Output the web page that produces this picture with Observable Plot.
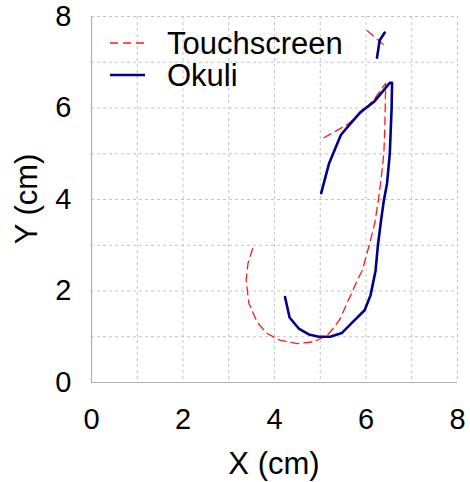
<!DOCTYPE html>
<html>
<head>
<meta charset="utf-8">
<script src="https://cdn.jsdelivr.net/npm/d3@7"></script>
<script src="https://cdn.jsdelivr.net/npm/@observablehq/plot@0.6"></script>
<style>
  html, body { margin: 0; padding: 0; background: #fff; }
  svg { font-family: "Liberation Sans", Arial, Helvetica, sans-serif; }
</style>
</head>
<body>
<div id="chart"></div>
<script>
// Touchscreen (red dashed) segments
const touchMainX = [5.08, 5.35, 5.62, 5.90, 6.17, 6.43, 6.41, 6.39, 6.33, 6.27, 6.19, 6.07, 5.92, 5.81, 5.70, 5.56, 5.44, 5.30, 5.15, 4.86, 4.50, 4.13, 3.84, 3.62, 3.44, 3.38, 3.42, 3.55];
const touchMainY = [5.35, 5.50, 5.66, 5.90, 6.18, 6.54, 5.50, 5.00, 4.45, 3.98, 3.48, 3.00, 2.45, 2.24, 1.98, 1.68, 1.40, 1.20, 1.03, 0.89, 0.85, 0.92, 1.07, 1.32, 1.73, 2.24, 2.60, 3.02];
const touchTopX = [6.03, 6.46];
const touchTopY = [7.69, 7.32];

// Okuli (blue solid) segments
const okuliMainX = [4.23, 4.33, 4.53, 4.75, 4.97, 5.22, 5.47, 5.73, 5.97, 6.10, 6.21, 6.26, 6.33, 6.39, 6.46, 6.52, 6.56, 6.57, 6.52, 6.17, 5.88, 5.66, 5.45, 5.19, 5.02];
const okuliMainY = [1.87, 1.42, 1.18, 1.05, 1.00, 1.00, 1.08, 1.34, 1.58, 1.91, 2.45, 3.00, 3.55, 3.98, 4.35, 5.00, 6.00, 6.55, 6.55, 6.13, 5.91, 5.66, 5.41, 4.78, 4.14];
const okuliTopX = [6.24, 6.30, 6.41];
const okuliTopY = [7.10, 7.48, 7.65];

const seriesNames = ["Touchscreen", "Okuli"];
const gridTicks = [0, 1, 2, 3, 4, 5, 6, 7, 8];
const labelTicks = [0, 2, 4, 6, 8];
const xLabel = "X (cm)";
const yLabel = "Y (cm)";

function seg(xs, ys, series, id) {
  return xs.map((x, i) => ({x, y: ys[i], series, seg: id}));
}
const touchData = [...seg(touchMainX, touchMainY, "Touchscreen", "t1"), ...seg(touchTopX, touchTopY, "Touchscreen", "t2")];
const okuliData = [...seg(okuliMainX, okuliMainY, "Okuli", "o1"), ...seg(okuliTopX, okuliTopY, "Okuli", "o2")];

const RED = "#ff1a1a";
const BLUE = "#00008b";
const GRID = "#c4c4c4";

const W = 470, H = 482;
const mL = 91, mR = 13, mT = 16, mB = 100;

const chart = Plot.plot({
  width: W,
  height: H,
  marginLeft: mL,
  marginRight: mR,
  marginTop: mT,
  marginBottom: mB,
  style: {fontFamily: "Liberation Sans, Arial, sans-serif", fontSize: "28px", color: "#000", background: "#fff"},
  x: {domain: [0, 8], label: null},
  y: {domain: [0, 8], label: null},
  marks: [
    Plot.gridX(gridTicks, {stroke: GRID, strokeOpacity: 1, strokeDasharray: "3,3", strokeWidth: 1}),
    Plot.gridY(gridTicks, {stroke: GRID, strokeOpacity: 1, strokeDasharray: "3,3", strokeWidth: 1}),
    Plot.ruleX([0], {stroke: "#b0b0b0", strokeWidth: 1.2}),
    Plot.ruleY([0], {stroke: "#b0b0b0", strokeWidth: 1.2}),
    Plot.axisX(labelTicks, {tickSize: 0, tickPadding: 26, fontSize: 29}),
    Plot.axisY(labelTicks, {tickSize: 0, tickPadding: 20, fontSize: 29}),
    Plot.line(touchData, {x: "x", y: "y", z: "seg", stroke: RED, strokeWidth: 1.3, strokeDasharray: "8,5", curve: "linear"}),
    Plot.line(okuliData, {x: "x", y: "y", z: "seg", stroke: BLUE, strokeWidth: 2.6, curve: "linear"})
  ]
});

const svg = d3.select(chart);
// Axis titles
svg.append("text")
  .attr("x", mL + (W - mL - mR) / 2).attr("y", 474)
  .attr("text-anchor", "middle").style("font-size", "31px").attr("fill", "#000")
  .text(xLabel);
svg.append("text")
  .attr("transform", `translate(37,${mT + (H - mT - mB) / 2}) rotate(-90)`)
  .attr("text-anchor", "middle").style("font-size", "31px").attr("fill", "#000")
  .text(yLabel);

// Legend
const legendItems = [
  {name: seriesNames[0], stroke: RED, width: 1.3, dash: "8,5", y: 43},
  {name: seriesNames[1], stroke: BLUE, width: 2.6, dash: null, y: 75}
];
const lg = svg.append("g").attr("text-anchor", "start");
legendItems.forEach(d => {
  lg.append("line").attr("x1", 110).attr("x2", 145).attr("y1", d.y).attr("y2", d.y)
    .attr("stroke", d.stroke).attr("stroke-width", d.width)
    .attr("stroke-dasharray", d.dash);
  lg.append("text").attr("x", 167).attr("y", d.y + 10.5)
    .attr("text-anchor", "start")
    .style("font-size", "31px").attr("fill", "#000").text(d.name);
});

document.getElementById("chart").appendChild(chart);
</script>
</body>
</html>
